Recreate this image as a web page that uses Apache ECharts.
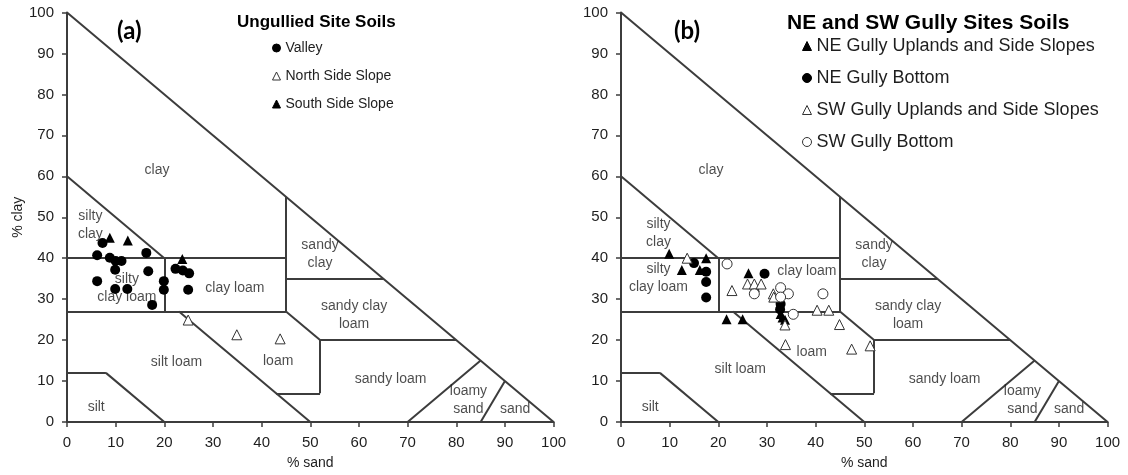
<!DOCTYPE html>
<html>
<head>
<meta charset="utf-8">
<title>Soil texture – gully study</title>
<script src="https://cdn.jsdelivr.net/npm/echarts@6/dist/echarts.min.js"></script>
<style>
  html, body { margin: 0; padding: 0; background: #fff; }
  #chart { width: 1128px; height: 475px; }
</style>
</head>
<body>
<div id="chart"></div>
<script>
// ---- texture class boundaries (% sand, % clay) ----
const boundaryLines = [
  [[0, 100], [100, 0]],
  [[0, 60], [20, 40]],
  [[0, 40], [45, 40]],
  [[20, 40], [20, 27]],
  [[0, 27], [45, 27]],
  [[45, 55], [45, 27]],
  [[45, 35], [65, 35]],
  [[45, 27], [52, 20]],
  [[52, 20], [80, 20]],
  [[52, 20], [52, 7]],
  [[43, 7], [52, 7]],
  [[23, 27], [50, 0]],
  [[0, 12], [8, 12]],
  [[8, 12], [20, 0]],
  [[70, 0], [85, 15]],
  [[85, 0], [90, 10]]
];

// ---- class names and where they are written ----
const classLabelsA = [
  ['clay', 18.5, 61.5], ['silty\nclay', 4.8, 48], ['silty\nclay loam', 12.3, 32.6],
  ['sandy\nclay', 52, 41], ['clay loam', 34.5, 32.8], ['sandy clay\nloam', 59, 26.1],
  ['silt loam', 22.5, 14.6], ['loam', 43.4, 14.9], ['silt', 6, 3.7],
  ['sandy loam', 66.5, 10.5], ['loamy\nsand', 82.5, 5.4], ['sand', 92.1, 3.2]
];
const classLabelsB = [
  ['clay', 18.5, 61.5], ['silty\nclay', 7.7, 46], ['silty\nclay loam', 7.7, 35.2],
  ['sandy\nclay', 52, 41], ['clay loam', 38.2, 36.9], ['sandy clay\nloam', 59, 26.1],
  ['silt loam', 24.5, 13], ['loam', 39.2, 17.0], ['silt', 6, 3.7],
  ['sandy loam', 66.5, 10.5], ['loamy\nsand', 82.5, 5.4], ['sand', 92.1, 3.2]
];

// ---- samples, [% sand, % clay] ----
// (a) Ungullied site
const valley = [
  [7.3, 43.7], [6.2, 40.7], [8.8, 40.1], [10.0, 39.3], [11.2, 39.3], [9.9, 37.2],
  [16.3, 41.3], [16.7, 36.8], [6.2, 34.4], [9.9, 32.5], [12.4, 32.5], [19.9, 34.4],
  [19.9, 32.3], [17.5, 28.6], [22.3, 37.4], [23.8, 37.0], [25.1, 36.3], [24.9, 32.3]
];
const northSideSlope = [[24.9, 24.9], [34.9, 21.3], [43.8, 20.3]];
const southSideSlope = [[8.8, 45.0], [12.5, 44.3], [23.7, 39.8]];

// (b) NE and SW gully sites
const neUplands = [
  [9.9, 41.1], [17.5, 40.0], [12.5, 37.1], [16.2, 37.1], [26.2, 36.3], [27.5, 33.0],
  [21.7, 25.1], [25.0, 25.1], [32.8, 26.4], [33.2, 25.5], [33.7, 25.0]
];
const neBottom = [
  [15.0, 38.8], [17.5, 36.7], [17.5, 34.2], [17.5, 30.4], [29.5, 36.2], [32.8, 28.8], [32.7, 27.5]
];
const swUplands = [
  [13.6, 40.0], [22.8, 32.1], [26.0, 33.7], [27.4, 33.7], [28.8, 33.7], [31.3, 31.3],
  [31.4, 30.5], [40.3, 27.3], [42.7, 27.3], [33.7, 23.7], [44.9, 23.8], [33.8, 18.9],
  [47.4, 17.8], [51.2, 18.6]
];
const swBottom = [
  [21.8, 38.6], [27.4, 31.3], [32.8, 32.8], [34.4, 31.3], [32.8, 30.5], [35.4, 26.3], [41.5, 31.3]
];

const axisTicks = [0, 10, 20, 30, 40, 50, 60, 70, 80, 90, 100];

// ---- styling ----
const FONT = '"Liberation Sans", Arial, sans-serif';
const INK = '#3c3c3c';
const TXT = '#1e1e1e';

function valueAxis(gridIndex, name, isY) {
  return {
    type: 'value', gridIndex,
    min: axisTicks[0], max: axisTicks[axisTicks.length - 1], interval: axisTicks[1] - axisTicks[0],
    name: name, nameLocation: 'middle', nameGap: isY ? 40 : 34,
    nameTextStyle: { fontFamily: FONT, fontSize: 14, color: TXT },
    axisLine: { show: true, onZero: false, lineStyle: { color: INK, width: 2 } },
    axisTick: { show: true, inside: false, length: 5, lineStyle: { color: INK, width: 1.5 } },
    axisLabel: { fontFamily: FONT, fontSize: 15, color: TXT, margin: isY ? 13 : 13 },
    splitLine: { show: false }
  };
}

function boundarySeries(idx) {
  return {
    type: 'lines', coordinateSystem: 'cartesian2d', xAxisIndex: idx, yAxisIndex: idx,
    silent: true, z: 2,
    lineStyle: { color: INK, width: 2, opacity: 1 },
    data: boundaryLines.map(c => ({ coords: c }))
  };
}

function labelSeries(idx, labels) {
  return {
    type: 'scatter', xAxisIndex: idx, yAxisIndex: idx, silent: true, z: 3,
    symbolSize: 0,
    label: {
      show: true, position: 'inside', formatter: p => p.name,
      fontFamily: FONT, fontSize: 14, lineHeight: 18, color: TXT
    },
    data: labels.map(l => ({ name: l[0], value: [l[1], l[2]] }))
  };
}

function pointSeries(idx, name, data, symbol, filled, size) {
  return {
    type: 'scatter', name, xAxisIndex: idx, yAxisIndex: idx, z: 5,
    symbol, symbolSize: size,
    itemStyle: filled
      ? { color: '#000', borderColor: '#000', borderWidth: 0, opacity: 1 }
      : { color: '#fff', borderColor: '#333', borderWidth: 1, opacity: 1 },
    emphasis: { disabled: true },
    data
  };
}

const chart = echarts.init(document.getElementById('chart'), null, { renderer: 'canvas' });

chart.setOption({
  animation: false,
  backgroundColor: '#fff',
  title: [
    { text: '(a)', left: 112, top: 14, textStyle: { fontFamily: 'Lato, "Open Sans", sans-serif', fontWeight: 'bold', fontSize: 24, color: '#000' } },
    { text: 'Ungullied Site Soils', left: 232, top: 9, textStyle: { fontFamily: FONT, fontWeight: 'bold', fontSize: 17, color: '#000' } },
    { text: '(b)', left: 669, top: 14, textStyle: { fontFamily: 'Lato, "Open Sans", sans-serif', fontWeight: 'bold', fontSize: 24, color: '#000' } },
    { text: 'NE and SW Gully Sites Soils', left: 782, top: 8, textStyle: { fontFamily: FONT, fontWeight: 'bold', fontSize: 21, color: '#000' } }
  ],
  legend: [
    {
      orient: 'vertical', left: 272, top: 40, padding: 0, itemGap: 12,
      itemWidth: 8, itemHeight: 8, itemStyle: { borderWidth: 1 },
      textStyle: { fontFamily: FONT, fontSize: 14, lineHeight: 16, color: TXT },
      data: ['Valley', 'North Side Slope', 'South Side Slope']
    },
    {
      orient: 'vertical', left: 802, top: 37, padding: 0, itemGap: 14,
      itemWidth: 9, itemHeight: 9, itemStyle: { borderWidth: 1 },
      textStyle: { fontFamily: FONT, fontSize: 18, lineHeight: 18, color: TXT },
      data: ['NE Gully Uplands and Side Slopes', 'NE Gully Bottom', 'SW Gully Uplands and Side Slopes', 'SW Gully Bottom']
    }
  ],
  grid: [
    { left: 67, top: 12.5, width: 486.6, height: 410.5 },
    { left: 621, top: 12.5, width: 486.6, height: 410.5 }
  ],
  xAxis: [valueAxis(0, '% sand', false), valueAxis(1, '% sand', false)],
  yAxis: [valueAxis(0, '% clay', true), valueAxis(1, '', true)],
  series: [
    boundarySeries(0),
    boundarySeries(1),
    labelSeries(0, classLabelsA),
    labelSeries(1, classLabelsB),
    pointSeries(0, 'Valley', valley, 'circle', true, 10),
    pointSeries(0, 'North Side Slope', northSideSlope, 'triangle', false, 10),
    pointSeries(0, 'South Side Slope', southSideSlope, 'triangle', true, 10),
    pointSeries(1, 'NE Gully Uplands and Side Slopes', neUplands, 'triangle', true, 10),
    pointSeries(1, 'NE Gully Bottom', neBottom, 'circle', true, 10),
    pointSeries(1, 'SW Gully Uplands and Side Slopes', swUplands, 'triangle', false, 10),
    pointSeries(1, 'SW Gully Bottom', swBottom, 'circle', false, 10)
  ]
});
</script>
</body>
</html>
